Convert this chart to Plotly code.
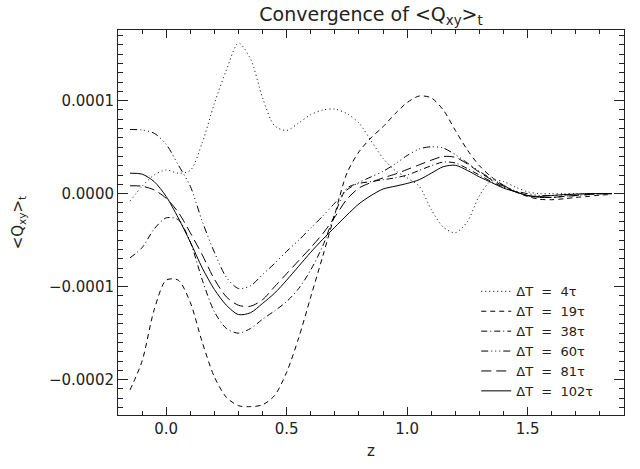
import plotly.graph_objects as go

# z grid (shared by all series)
z = [-0.15, -0.10, -0.05, 0.00, 0.05, 0.10, 0.15, 0.20, 0.25, 0.30,
     0.35, 0.40, 0.45, 0.50, 0.55, 0.60, 0.65, 0.70, 0.75, 0.80,
     0.85, 0.90, 0.95, 1.00, 1.05, 1.10, 1.15, 1.20, 1.25, 1.30,
     1.35, 1.40, 1.45, 1.50, 1.55, 1.60, 1.65, 1.70, 1.75, 1.80, 1.85]

SCALE = 1e-4  # values below are in units of 1e-4

q_4 = [-0.08, 0.08, 0.20, 0.255, 0.22, 0.25, 0.55, 0.97, 1.33, 1.62,
       1.45, 1.03, 0.73, 0.68, 0.76, 0.85, 0.90, 0.91, 0.86, 0.76,
       0.57, 0.38, 0.25, 0.17, 0.08, -0.17, -0.36, -0.42, -0.30, -0.02,
       0.14, 0.13, 0.07, 0.02, 0.00, 0.00, 0.00, 0.00, 0.00, 0.00, 0.00]

q_19 = [-2.11, -1.80, -1.25, -0.93, -0.93, -1.17, -1.60, -1.97, -2.19, -2.28,
        -2.29, -2.27, -2.17, -1.92, -1.55, -1.11, -0.67, -0.22, 0.22, 0.45,
        0.60, 0.72, 0.86, 0.98, 1.05, 1.03, 0.90, 0.68, 0.47, 0.30,
        0.18, 0.09, 0.02, -0.03, -0.06, -0.065, -0.055, -0.04, -0.03, -0.015, -0.01]

q_38 = [-0.69, -0.58, -0.38, -0.26, -0.28, -0.52, -0.93, -1.27, -1.45, -1.50,
        -1.45, -1.35, -1.26, -1.16, -1.02, -0.82, -0.56, -0.22, 0.06, 0.11,
        0.13, 0.15, 0.17, 0.20, 0.25, 0.30, 0.34, 0.33, 0.27, 0.20,
        0.13, 0.07, 0.02, -0.02, -0.04, -0.04, -0.03, -0.02, -0.01, 0.00, 0.00]

q_60 = [0.69, 0.685, 0.65, 0.53, 0.31, 0.08, -0.30, -0.63, -0.90, -1.02,
        -0.99, -0.87, -0.75, -0.62, -0.50, -0.37, -0.24, -0.10, 0.04, 0.12,
        0.18, 0.24, 0.32, 0.41, 0.48, 0.505, 0.49, 0.42, 0.33, 0.24,
        0.16, 0.09, 0.03, 0.00, -0.02, -0.02, -0.015, -0.01, 0.00, 0.00, 0.00]

q_81 = [0.085, 0.08, 0.04, -0.05, -0.20, -0.42, -0.66, -0.92, -1.11, -1.20,
        -1.21, -1.14, -1.00, -0.86, -0.72, -0.58, -0.43, -0.25, -0.06, 0.06,
        0.12, 0.17, 0.21, 0.26, 0.31, 0.36, 0.40, 0.39, 0.32, 0.23,
        0.15, 0.08, 0.02, -0.02, -0.04, -0.04, -0.03, -0.02, -0.01, 0.00, 0.00]

q_102 = [0.22, 0.21, 0.13, -0.03, -0.26, -0.52, -0.80, -1.03, -1.20, -1.30,
         -1.28, -1.18, -1.07, -0.93, -0.78, -0.63, -0.49, -0.36, -0.23, -0.11,
         -0.02, 0.05, 0.08, 0.11, 0.15, 0.22, 0.29, 0.305, 0.25, 0.18,
         0.12, 0.06, 0.02, -0.02, -0.03, -0.02, -0.01, -0.005, 0.00, 0.00, 0.00]

series_names = ["\u0394T\u00a0\u00a0=\u00a0\u00a04\u03c4",
                "\u0394T\u00a0\u00a0=\u00a0\u00a019\u03c4",
                "\u0394T\u00a0\u00a0=\u00a0\u00a038\u03c4",
                "\u0394T\u00a0\u00a0=\u00a0\u00a060\u03c4",
                "\u0394T\u00a0\u00a0=\u00a0\u00a081\u03c4",
                "\u0394T\u00a0\u00a0=\u00a0\u00a0102\u03c4"]
series_vals = [q_4, q_19, q_38, q_60, q_81, q_102]
dashes = ["1px,3px", "5px,4px", "6px,3px,1px,3px",
          "7px,3px,1px,3px,1px,3px,1px,3px", "10px,5px", "solid"]

y_tickvals = [1e-4, 0.0, -1e-4, -2e-4]
y_ticktext = ["0.0001", "0.0000", "\u22120.0001", "\u22120.0002"]
x_tickvals = [0.0, 0.5, 1.0, 1.5]
x_ticktext = ["0.0", "0.5", "1.0", "1.5"]

FONT = "DejaVu Sans, Liberation Sans, Arial, sans-serif"
AX = "#222222"

fig = go.Figure()
for name, vals, d in zip(series_names, series_vals, dashes):
    fig.add_trace(go.Scatter(
        x=z, y=[v * SCALE for v in vals], mode="lines", name=name,
        line=dict(color="black", width=1, dash=d, shape="spline", smoothing=0.8),
    ))

fig.update_layout(
    width=640, height=469,
    margin=dict(l=118, r=16, t=30, b=51),
    paper_bgcolor="white", plot_bgcolor="white",
    font=dict(family=FONT, size=15, color="#222222"),
    title=dict(text="Convergence of &lt;Q<sub>xy</sub>&gt;<sub>t</sub>",
               x=(118 + 624) / 2 / 640, xanchor="center", y=1 - 14 / 469, yanchor="middle",
               font=dict(size=19, family=FONT, color="#222222")),
    showlegend=True,
    legend=dict(x=0.708, y=0.36, xanchor="left", yanchor="top",
                bgcolor="rgba(0,0,0,0)", font=dict(size=13, family=FONT),
                tracegroupgap=0, itemwidth=30),
)
fig.update_xaxes(
    range=[-0.2, 1.9], tickvals=x_tickvals, ticktext=x_ticktext,
    ticks="inside", ticklen=8, tickcolor=AX, tickwidth=1,
    showline=True, linecolor=AX, linewidth=1, mirror="ticks",
    showgrid=False, zeroline=False,
    minor=dict(dtick=0.1, tick0=0, ticks="inside", ticklen=4, tickcolor=AX, showgrid=False),
    title=dict(text="z", standoff=8, font=dict(size=15)),
    tickfont=dict(size=15),
)
fig.update_yaxes(
    range=[-0.000238, 0.000176], tickvals=y_tickvals, ticktext=y_ticktext,
    ticks="inside", ticklen=10, tickcolor=AX, tickwidth=1,
    showline=True, linecolor=AX, linewidth=1, mirror="ticks",
    showgrid=False, zeroline=False,
    minor=dict(dtick=1e-5, tick0=0, ticks="inside", ticklen=5, tickcolor=AX, showgrid=False),
    title=dict(text="&lt;Q<sub>xy</sub>&gt;<sub>t</sub>", standoff=21, font=dict(size=15)),
    tickfont=dict(size=15),
)

fig.write_html("out.html")
